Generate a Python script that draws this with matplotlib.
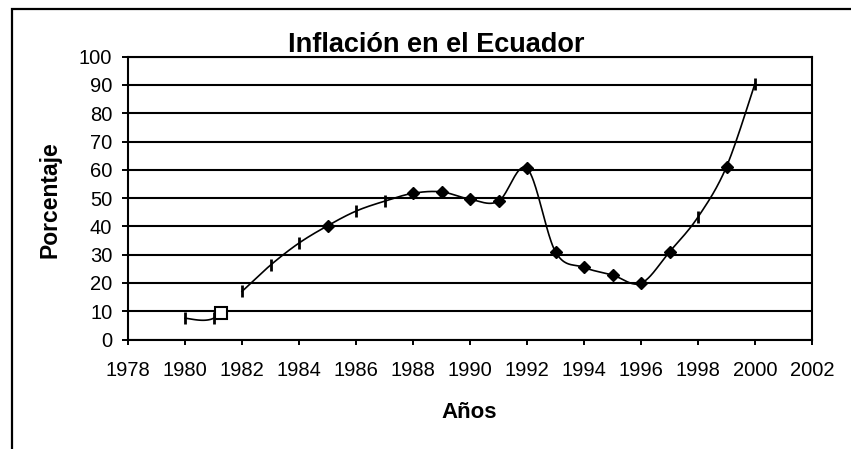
import numpy as np
import matplotlib
matplotlib.use('Agg')
import matplotlib.pyplot as plt
from matplotlib.lines import Line2D

# ---- data ----
years = [1980, 1981, 1982, 1983, 1984, 1985, 1986, 1987, 1988, 1989, 1990,
         1991, 1992, 1993, 1994, 1995, 1996, 1997, 1998, 1999, 2000]
inflation = [7.5, 7.5, 17.0, 26.3, 34.1, 40.2, 45.4, 48.9, 51.7, 52.2, 49.6,
             48.9, 60.5, 31.0, 25.5, 22.8, 19.9, 31.0, 43.3, 61.1, 90.5]
point_markers = ['|', '|', '|', '|', '|', 'D', '|', '|', 'D', 'D', 'D',
                 'D', 'D', 'D', 'D', 'D', 'D', 'D', '|', 'D', '|']
break_after = [1981]          # line is interrupted after this year
extra_x = [1981.25]           # stray hollow square marker
extra_y = [9.4]
x_ticks = list(range(1978, 2003, 2))
y_ticks = list(range(0, 101, 10))

title = 'Inflación en el Ecuador'
xlabel = 'Años'
ylabel = 'Porcentaje'

plt.rcParams['font.family'] = ['Liberation Sans', 'DejaVu Sans']

W, H = 851, 449
fig = plt.figure(figsize=(W / 100, H / 100), dpi=100)
ax = fig.add_axes([128 / W, 1 - 339.5 / H, (812 - 128) / W, (339.5 - 56.7) / H])

# ---- smoothed line (Excel-like Bezier smoothing) ----
P = np.column_stack([years, inflation]).astype(float)
n = len(P)
runs, cur = [], []
for i in range(n - 1):
    if years[i] in break_after:
        if cur:
            runs.append(np.array(cur))
        cur = []
        continue
    p0 = P[i - 1] if i > 0 else P[i]
    p1, p2 = P[i], P[i + 1]
    p3 = P[i + 2] if i + 2 < n else P[i + 1]
    b1 = p1 + (p2 - p0) / 6.0
    b2 = p2 - (p3 - p1) / 6.0
    t = np.linspace(0, 1, 40)[:, None]
    seg = ((1 - t) ** 3) * p1 + 3 * ((1 - t) ** 2) * t * b1 + 3 * (1 - t) * t ** 2 * b2 + t ** 3 * p2
    if cur:
        seg = seg[1:]
    cur.extend(seg.tolist())
if cur:
    runs.append(np.array(cur))
for r in runs:
    ax.plot(r[:, 0], r[:, 1], color='black', lw=1.2, zorder=3, solid_joinstyle='round')

# ---- markers ----
yrs = np.array(years)
vals = np.array(inflation)
mk = np.array(point_markers)
sel = mk == 'D'
ax.plot(yrs[sel], vals[sel], ls='none', marker='D', ms=6.6, color='black', zorder=4)
sel = mk == '|'
ax.plot(yrs[sel], vals[sel], ls='none', marker='|', ms=9, mew=2.0, color='black', zorder=4)
ax.plot(extra_x, extra_y, ls='none', marker='s', ms=9, mfc='white', mec='black', mew=1.5, zorder=4)

# ---- axes ----
ax.set_xlim(1978, 2002)
ax.set_ylim(0, 100)
ax.set_xticks(x_ticks)
ax.set_yticks(y_ticks)
ax.set_xticklabels([str(v) for v in x_ticks])
ax.set_yticklabels([str(v) for v in y_ticks])
ax.yaxis.grid(True, color='black', lw=1.5, zorder=1)
ax.set_axisbelow(True)
for s in ax.spines.values():
    s.set_linewidth(1.5)
    s.set_color('black')
ax.tick_params(axis='x', direction='out', length=3.5, width=1.4, pad=12, labelsize=14.5)
ax.tick_params(axis='y', direction='out', length=4.5, width=1.4, pad=6.8, labelsize=14.5)

fig.text(436.5 / W, 1 - 51.7 / H, title, ha='center', va='baseline', fontsize=19.5, fontweight='bold')
fig.text(469 / W, 1 - 418 / H, xlabel, ha='center', va='baseline', fontsize=16, fontweight='bold')
fig.text(50 / W, 1 - 200 / H, ylabel, ha='center', va='center', rotation=90, fontsize=16.5, fontweight='bold')

# ---- outer chart border (top and left visible) ----
bx, by = 12 / W, 1 - 8.7 / H
fig.add_artist(Line2D([bx, bx, 1.0], [0.0, by, by], transform=fig.transFigure,
                      color='black', lw=1.6, solid_joinstyle='miter'))

fig.savefig('out.png', dpi=100)
